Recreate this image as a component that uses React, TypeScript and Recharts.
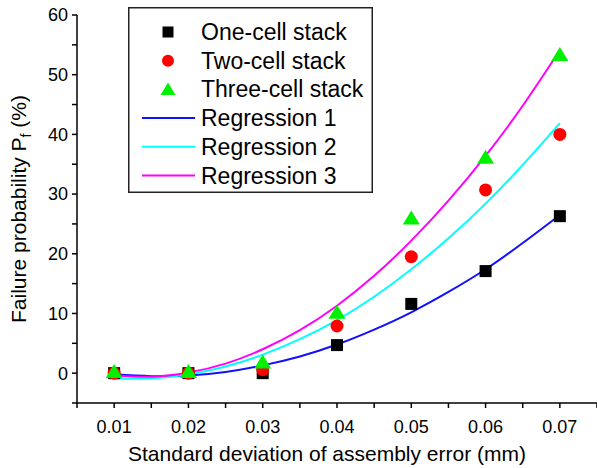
import React from 'react';
import { ComposedChart, Line, Scatter, XAxis, YAxis, Legend } from 'recharts';

// Standard deviation of assembly error (mm) for the measured stacks
const sigma = [0.01, 0.02, 0.03, 0.04, 0.05, 0.06, 0.07];

// Failure probability Pf (%) per stack size
const oneCell = [0, 0, 0, 4.7, 11.6, 17.1, 26.3];
const twoCell = [0, 0, 0.6, 7.9, 19.5, 30.7, 40.0];
const threeCell = [0.2, 0.2, 1.8, 10.1, 25.9, 36.1, 53.3];

// Regression curves sampled along the sigma range
const fitSigma = [0.01, 0.015, 0.02, 0.025, 0.03, 0.035, 0.04, 0.045, 0.05, 0.055, 0.06, 0.065, 0.07];
const regression1 = [-0.2, -0.5, -0.4, 0.2, 1.3, 2.8, 4.8, 7.3, 10.2, 13.6, 17.4, 21.8, 26.5];
const regression2 = [-0.9, -0.9, -0.2, 1.1, 3.1, 5.7, 8.9, 12.8, 17.4, 22.6, 28.4, 34.9, 41.9];
const regression3 = [-0.4, -0.6, 0.1, 1.6, 4.0, 7.2, 11.3, 16.3, 22.2, 28.9, 36.4, 44.8, 54.1];

// Axis ticks (minor ticks carry no label)
const xTicks = [0.005, 0.01, 0.015, 0.02, 0.025, 0.03, 0.035, 0.04, 0.045, 0.05, 0.055, 0.06, 0.065, 0.07, 0.075];
const yTicks = [-5, 0, 5, 10, 15, 20, 25, 30, 35, 40, 45, 50, 55, 60];

const FONT = '"Liberation Sans", Arial, Helvetica, sans-serif';

const regressionRows = fitSigma.map((x, i) => ({
  x,
  r1: regression1[i],
  r2: regression2[i],
  r3: regression3[i],
}));

const toPoints = (values: number[]) => sigma.map((x, i) => ({ x, y: values[i] }));

const formatX = (v: number) => {
  const hundredths = v * 100;
  return Math.abs(Math.round(hundredths) - hundredths) < 1e-6 ? v.toFixed(2) : '';
};
const formatY = (v: number) => (v % 10 === 0 ? String(v) : '');

const SquareMark = (props: any) => {
  const { cx, cy } = props;
  return <rect x={cx - 6} y={cy - 6} width={12} height={12} fill="#000000" />;
};
const CircleMark = (props: any) => {
  const { cx, cy } = props;
  return <circle cx={cx} cy={cy} r={6.5} fill="#ff0000" />;
};
const TriangleMark = (props: any) => {
  const { cx, cy } = props;
  return (
    <polygon
      points={`${cx},${cy - 8} ${cx + 8.5},${cy + 6} ${cx - 8.5},${cy + 6}`}
      fill="#00f000"
    />
  );
};

const legendItems = [
  { name: 'One-cell stack', kind: 'square', color: '#000000' },
  { name: 'Two-cell stack', kind: 'circle', color: '#ff0000' },
  { name: 'Three-cell stack', kind: 'triangle', color: '#00f000' },
  { name: 'Regression 1', kind: 'line', color: '#1010ff' },
  { name: 'Regression 2', kind: 'line', color: '#00ffff' },
  { name: 'Regression 3', kind: 'line', color: '#ff00ff' },
];

const LegendBox = () => {
  const w = 245;
  const h = 186;
  const rowStart = 25;
  const rowGap = 28.7;
  return (
    <svg width={w} height={h} style={{ display: 'block' }}>
      <rect x={0.75} y={0.75} width={w - 1.5} height={h - 1.5} fill="#ffffff" stroke="#222222" strokeWidth={1.5} />
      {legendItems.map((item, i) => {
        const cy = rowStart + i * rowGap;
        let mark: React.ReactNode = null;
        if (item.kind === 'square') mark = <rect x={34.5} y={cy - 5.5} width={11} height={11} fill={item.color} />;
        if (item.kind === 'circle') mark = <circle cx={40} cy={cy} r={6} fill={item.color} />;
        if (item.kind === 'triangle')
          mark = <polygon points={`40,${cy - 7} 47.5,${cy + 5.5} 32.5,${cy + 5.5}`} fill={item.color} />;
        if (item.kind === 'line') mark = <line x1={14} x2={67} y1={cy} y2={cy} stroke={item.color} strokeWidth={2} />;
        return (
          <g key={item.name}>
            {mark}
            <text x={73} y={cy + 8} fontSize={23} fontFamily={FONT} fill="#000000">
              {item.name}
            </text>
          </g>
        );
      })}
    </svg>
  );
};

const YTitle = (props: any) => {
  const vb = props.viewBox || { y: 15, height: 388 };
  const cy = vb.y + vb.height / 2;
  return (
    <text
      transform={`translate(26, ${cy}) rotate(-90)`}
      textAnchor="middle"
      fontSize={21}
      fontFamily={FONT}
      fill="#000000"
    >
      Failure probability P
      <tspan dy={5} fontSize={14}>f</tspan>
      <tspan dy={-5}> (%)</tspan>
    </text>
  );
};

const XTitle = (props: any) => {
  const vb = props.viewBox || { x: 77, width: 520 };
  const cx = vb.x + vb.width / 2 - 10;
  return (
    <text x={cx} y={461} textAnchor="middle" fontSize={21} fontFamily={FONT} fill="#000000">
      Standard deviation of assembly error (mm)
    </text>
  );
};

export default function App() {
  return (
    <div style={{ position: 'absolute', left: 0, top: 0, width: 597, height: 468, background: '#ffffff' }}>
      <ComposedChart
        width={597}
        height={468}
        data={regressionRows}
        margin={{ top: 15, right: 0, bottom: 0, left: 0 }}
      >
        <XAxis
          type="number"
          dataKey="x"
          domain={[0.005, 0.075]}
          ticks={xTicks}
          interval={0}
          allowDataOverflow
          tickFormatter={formatX}
          height={65}
          tickSize={5}
          tickMargin={12}
          stroke="#000000"
          axisLine={{ stroke: '#000000', strokeWidth: 1.5 }}
          tickLine={{ stroke: '#000000', strokeWidth: 1.5 }}
          tick={{ fill: '#000000', fontSize: 18, fontFamily: FONT }}
          label={{ content: XTitle }}
        />
        <YAxis
          type="number"
          domain={[-5, 60]}
          ticks={yTicks}
          interval={0}
          allowDataOverflow
          tickFormatter={formatY}
          width={77}
          tickSize={5}
          tickMargin={4}
          stroke="#000000"
          axisLine={{ stroke: '#000000', strokeWidth: 1.5 }}
          tickLine={{ stroke: '#000000', strokeWidth: 1.5 }}
          tick={{ fill: '#000000', fontSize: 18, fontFamily: FONT }}
          label={{ content: YTitle }}
        />
        <Legend
          layout="horizontal"
          align="center"
          verticalAlign="middle"
          wrapperStyle={{ position: 'absolute', left: 128, top: 7, width: 245, height: 186 }}
          content={() => <LegendBox />}
        />
        <Scatter name="One-cell stack" data={toPoints(oneCell)} dataKey="y" shape={SquareMark} isAnimationActive={false} />
        <Scatter name="Two-cell stack" data={toPoints(twoCell)} dataKey="y" shape={CircleMark} isAnimationActive={false} />
        <Scatter name="Three-cell stack" data={toPoints(threeCell)} dataKey="y" shape={TriangleMark} isAnimationActive={false} />
        <Line name="Regression 1" dataKey="r1" type="natural" stroke="#1010ff" strokeWidth={2} dot={false} isAnimationActive={false} />
        <Line name="Regression 2" dataKey="r2" type="natural" stroke="#00ffff" strokeWidth={2} dot={false} isAnimationActive={false} />
        <Line name="Regression 3" dataKey="r3" type="natural" stroke="#ff00ff" strokeWidth={2} dot={false} isAnimationActive={false} />
      </ComposedChart>
    </div>
  );
}
